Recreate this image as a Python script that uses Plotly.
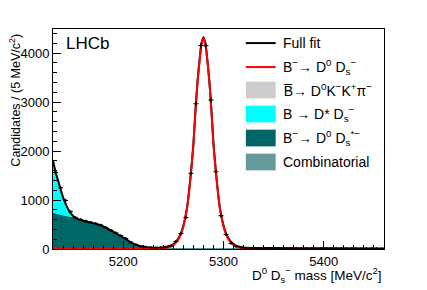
import numpy as np
import plotly.graph_objects as go

# ---------------- data ----------------
bin_centers = [5132.5 + 5 * i for i in range(66)]
counts = [1560, 1250, 990, 760, 640, 600, 570, 545, 520, 490,
          440, 385, 330, 270, 215, 140, 90, 55, 40, 30,
          25, 30, 35, 60, 155, 315, 640, 1545, 2965, 4150,
          4150, 3040, 1578, 680, 295, 116, 55, 30, 20, 15,
          12, 14, 10, 11, 9, 13, 10, 8, 12, 9,
          11, 10, 7, 9, 12, 8, 10, 9, 11, 8,
          10, 7, 9, 8, 10, 6]

# full fit curve
fit_x = [5130, 5132, 5134, 5136, 5138, 5140, 5142, 5144, 5146, 5148, 5150, 5153, 5156,
         5160, 5165, 5170, 5175, 5180, 5185, 5190, 5195, 5200, 5205, 5210, 5215, 5220,
         5225, 5230, 5235, 5240, 5245, 5248, 5250, 5252, 5254, 5256, 5258, 5260, 5262,
         5264, 5266, 5268, 5270, 5272, 5274, 5276, 5278, 5280, 5282, 5284, 5286, 5288,
         5290, 5292, 5294, 5296, 5298, 5300, 5302, 5304, 5306, 5308, 5310, 5312, 5315,
         5320, 5330, 5350, 5400, 5460]
fit_y = [1800, 1620, 1470, 1330, 1190, 1060, 950, 860, 780, 720, 675, 630, 600,
         575, 550, 528, 500, 460, 410, 355, 295, 235, 170, 110, 70, 45,
         32, 28, 28, 38, 55, 75, 100, 135, 185, 255, 350, 480, 660,
         900, 1250, 1670, 2150, 2820, 3400, 3840, 4190, 4320, 4190, 3840, 3400, 2820,
         2150, 1670, 1250, 900, 660, 480, 350, 255, 185, 135, 100, 75, 50,
         32, 22, 18, 15, 12]

# signal B- -> D0 Ds-
sig_x = [5130, 5200, 5230, 5240, 5245, 5248, 5250, 5252, 5254, 5256, 5258, 5260, 5262,
         5264, 5266, 5268, 5270, 5272, 5274, 5276, 5278, 5280, 5282, 5284, 5286, 5288,
         5290, 5292, 5294, 5296, 5298, 5300, 5302, 5304, 5306, 5308, 5310, 5312, 5315,
         5320, 5330, 5350, 5460]
sig_y = [0, 2, 8, 20, 35, 55, 80, 115, 165, 235, 330, 460, 640,
         880, 1230, 1650, 2130, 2800, 3380, 3820, 4170, 4300, 4170, 3820, 3380, 2800,
         2130, 1650, 1230, 880, 640, 460, 330, 235, 165, 115, 80, 55, 32,
         15, 5, 1, 0]

# background components (stacked top edges)
bkg_x = [5130, 5132, 5134, 5136, 5138, 5140, 5142, 5144, 5146, 5148, 5150, 5153, 5156,
         5160, 5165, 5170, 5175, 5180, 5185, 5190, 5195, 5200, 5205, 5210, 5215, 5220,
         5225, 5230, 5235, 5240, 5250, 5300, 5460]
dstar_top = [1800, 1620, 1470, 1330, 1190, 1060, 950, 860, 780, 720, 675, 630, 600,
             575, 550, 528, 500, 460, 410, 355, 295, 235, 168, 108, 68, 43,
             30, 24, 20, 18, 16, 12, 9]
dsstar_top = [735, 725, 715, 705, 695, 685, 676, 668, 660, 652, 645, 625, 598,
              572, 547, 525, 497, 457, 407, 352, 292, 232, 165, 105, 65, 40,
              27, 21, 17, 15, 13, 10, 8]
comb_x = [5130, 5460]
comb_top = [12, 8]

C_CYAN = "#00FFFF"
C_DARK = "#006666"
C_COMB = "#669999"
C_GRAY = "#CCCCCC"

fig = go.Figure()
fig.add_trace(go.Scatter(x=bkg_x, y=dstar_top, mode="lines", fill="tozeroy",
                         fillcolor=C_CYAN, line=dict(width=0, color=C_CYAN, shape="spline", smoothing=0.6),
                         showlegend=False, hoverinfo="skip"))
fig.add_trace(go.Scatter(x=bkg_x, y=dsstar_top, mode="lines", fill="tozeroy",
                         fillcolor=C_DARK, line=dict(width=0, color=C_DARK, shape="spline", smoothing=0.6),
                         showlegend=False, hoverinfo="skip"))
fig.add_trace(go.Scatter(x=comb_x, y=comb_top, mode="lines", fill="tozeroy",
                         fillcolor=C_COMB, line=dict(width=0.5, color=C_COMB),
                         showlegend=False, hoverinfo="skip"))
fig.add_trace(go.Scatter(x=fit_x, y=fit_y, mode="lines",
                         line=dict(width=2, color="black", shape="spline", smoothing=0.6),
                         showlegend=False, hoverinfo="skip"))
fig.add_trace(go.Scatter(x=sig_x, y=sig_y, mode="lines",
                         line=dict(width=2, color="#FF0000", shape="spline", smoothing=0.6),
                         showlegend=False, hoverinfo="skip"))
errs = np.sqrt(np.array(counts, dtype=float))
fig.add_trace(go.Scatter(x=bin_centers, y=counts, mode="markers",
                         marker=dict(size=2.5, color="black"),
                         error_y=dict(type="data", array=errs, width=0, thickness=1, color="black"),
                         error_x=dict(type="constant", value=2.5, width=0, thickness=1, color="black"),
                         showlegend=False, hoverinfo="skip"))

FONT = "Liberation Sans, Arial, Helvetica, sans-serif"

# page body has an 8px margin: figure is shrunk by 8px and margins compensate
fig.update_layout(
    width=419, height=282,
    margin=dict(l=43, r=43, t=21, b=41),
    paper_bgcolor="white", plot_bgcolor="white",
    font=dict(family=FONT, size=13, color="black"),
    xaxis=dict(range=[5130, 5460], showgrid=False, zeroline=False,
               ticks="inside", ticklen=8, tickwidth=1, tickcolor="black",
               dtick=100, tick0=5200,
               minor=dict(ticks="inside", ticklen=4, dtick=10, tick0=5200, tickcolor="black", showgrid=False),
               showline=True, linecolor="black", linewidth=1, mirror=True,
               tickfont=dict(size=13, family=FONT)),
    yaxis=dict(range=[0, 4490], showgrid=False, zeroline=False,
               ticks="inside", ticklen=8, tickwidth=1, tickcolor="black",
               dtick=1000, tick0=0,
               minor=dict(ticks="inside", ticklen=4, dtick=200, tick0=0, tickcolor="black", showgrid=False),
               showline=True, linecolor="black", linewidth=1, mirror=True,
               tickfont=dict(size=13, family=FONT)),
)

annotations = []
annotations.append(dict(text="LHCb", x=0.105, y=0.936, xref="paper", yref="paper",
                        xanchor="center", yanchor="middle", showarrow=False,
                        font=dict(size=17, family=FONT)))
annotations.append(dict(text="Candidates / (5 MeV/c<sup>2</sup>)", textangle=-90,
                        x=-0.115, y=0.99, xref="paper", yref="paper",
                        xanchor="center", yanchor="top", showarrow=False,
                        font=dict(size=12.5, family=FONT)))
annotations.append(dict(text="D<sup>0</sup> D<sub>s</sub><sup>−</sup> mass [MeV/c<sup>2</sup>]",
                        x=1.0, y=-0.12, xref="paper", yref="paper",
                        xanchor="right", yanchor="middle", showarrow=False,
                        font=dict(size=13.5, family=FONT)))

leg_labels = ["Full fit",
              "B<sup>−</sup>→ D<sup>0</sup> D<sub>s</sub><sup>−</sup>",
              "B\u0305→ D<sup>0</sup>K<sup>−</sup>K<sup>+</sup>π<sup>−</sup>",
              "B → D* D<sub>s</sub><sup>−</sup>",
              "B<sup>−</sup>→ D<sup>0</sup> D<sub>s</sub><sup>*−</sup>",
              "Combinatorial"]
leg_kind = ["line", "line", "box", "box", "box", "box"]
leg_color = ["black", "#FF0000", C_GRAY, C_CYAN, C_DARK, C_COMB]
leg_y = [0.936, 0.827, 0.7227, 0.6136, 0.5045, 0.3955]

shapes = []
x0, x1 = 0.5826, 0.6727
for lab, kind, col, yy in zip(leg_labels, leg_kind, leg_color, leg_y):
    if kind == "line":
        shapes.append(dict(type="line", xref="paper", yref="paper", x0=x0, x1=x1, y0=yy, y1=yy,
                           line=dict(color=col, width=2)))
    else:
        shapes.append(dict(type="rect", xref="paper", yref="paper", x0=x0, x1=x1,
                           y0=yy - 0.038, y1=yy + 0.038, fillcolor=col, line=dict(width=0)))
    annotations.append(dict(text=lab, x=0.6877, y=yy, xref="paper", yref="paper",
                            xanchor="left", yanchor="middle", showarrow=False,
                            font=dict(size=14, family=FONT)))

fig.update_layout(annotations=annotations, shapes=shapes)
fig.write_html("out.html")
